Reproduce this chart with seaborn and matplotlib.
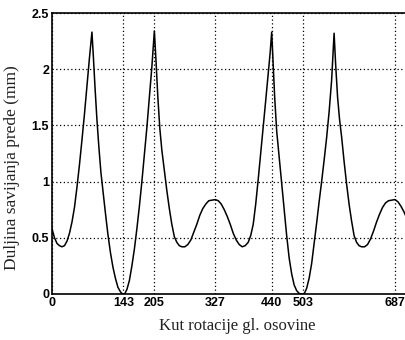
import numpy as np
import pandas as pd
import matplotlib
matplotlib.use("Agg")
import matplotlib.pyplot as plt
import seaborn as sns

# kut rotacije (stupnjevi) i duljina savijanja (mm), ocitano sa slike
kut = [0, 5, 10, 15, 20, 25, 30, 35, 40, 45, 50, 55, 60, 65, 70, 75, 80,
       83, 86, 90, 94, 98, 102, 107, 112, 117, 122, 127, 132, 137, 140, 143,
       146, 150, 155, 160, 165, 170, 175, 180, 185, 190, 195, 200, 205,
       208, 212, 216, 220, 225, 230, 235, 240, 245, 250, 255, 260, 266,
       272, 278, 284, 290, 296, 302, 308, 314, 320, 327, 333, 339, 345,
       351, 357, 363, 369, 375, 381, 387, 393, 398, 403, 408, 413, 418,
       423, 428, 433, 437, 440, 443, 446, 450, 455, 460, 465, 470, 475,
       480, 485, 490, 495, 500, 503, 506, 510, 515, 520, 525, 530, 535,
       540, 545, 550, 555, 560, 565, 568, 572, 576, 580, 585, 590, 595,
       600, 605, 610, 615, 620, 626, 632, 638, 644, 650, 656, 662, 668,
       674, 680, 687, 693, 699, 705, 710]
duljina = [0.58, 0.50, 0.45, 0.43, 0.42, 0.43, 0.47, 0.54, 0.64, 0.77, 0.95,
           1.15, 1.37, 1.60, 1.85, 2.10, 2.33,
           2.10, 1.85, 1.55, 1.30, 1.08, 0.92, 0.72, 0.53, 0.37, 0.24, 0.14,
           0.06, 0.02, 0.005, 0.0,
           0.005, 0.04, 0.12, 0.25, 0.40, 0.58, 0.78, 1.00, 1.24, 1.48,
           1.75, 2.02, 2.34,
           2.10, 1.75, 1.47, 1.28, 1.10, 0.92, 0.76, 0.62, 0.51, 0.46,
           0.43, 0.42, 0.42,
           0.44, 0.48, 0.55, 0.62, 0.70, 0.76, 0.80, 0.83, 0.835, 0.84,
           0.83, 0.80, 0.75,
           0.69, 0.62, 0.54, 0.48, 0.44, 0.42, 0.43, 0.46, 0.52, 0.62,
           0.80, 1.02, 1.25,
           1.48, 1.72, 1.96, 2.15, 2.33, 2.05, 1.75, 1.45, 1.22, 0.98,
           0.75, 0.52, 0.32,
           0.18, 0.08, 0.03, 0.005, 0.0, 0.0, 0.01, 0.05, 0.14, 0.27,
           0.45, 0.63, 0.82,
           1.00, 1.19, 1.39, 1.62, 1.90, 2.32, 2.05, 1.75, 1.55, 1.40,
           1.18, 0.98, 0.80,
           0.65, 0.52, 0.46, 0.43, 0.42, 0.42, 0.44, 0.49, 0.56, 0.64,
           0.71, 0.77, 0.81,
           0.83, 0.835, 0.84, 0.82, 0.78, 0.73, 0.68]

x_ticks = [0, 143, 205, 327, 440, 503, 687]
y_ticks = [0, 0.5, 1, 1.5, 2, 2.5]
y_tick_labels = ["0", "0.5", "1", "1.5", "2", "2.5"]

df = pd.DataFrame({"kut": kut, "duljina": duljina})

sns.set_style("white")
fig = plt.figure(figsize=(4.05, 3.4), dpi=100)
ax = fig.add_axes([52 / 405, 46 / 340, 353 / 405, 281 / 340])

sns.lineplot(data=df, x="kut", y="duljina", color="black", linewidth=1.1,
             ax=ax, zorder=3)

ax.set_xlim(0, 707)
ax.set_ylim(0, 2.5)
ax.set_xticks(x_ticks)
ax.set_xticklabels([str(t) for t in x_ticks])
ax.set_yticks(y_ticks)
ax.set_yticklabels(y_tick_labels)

tick_font = dict(family=["Liberation Sans Narrow", "Liberation Sans"],
                 weight="bold", size=9)
for lab in ax.get_xticklabels() + ax.get_yticklabels():
    lab.set_fontproperties(matplotlib.font_manager.FontProperties(**tick_font))

ax.tick_params(direction="in", length=3, width=0.8, color="black",
               labelcolor="black", pad=2)
ax.grid(True, color="black", linestyle=(0, (1, 2)), linewidth=0.9)

for side in ["left", "bottom", "top"]:
    ax.spines[side].set_color("black")
    ax.spines[side].set_linewidth(1.2)
ax.spines["right"].set_visible(False)

ax.set_xlabel("Kut rotacije gl. osovine", family="Liberation Serif",
              fontsize=12, color="#222222")
ax.set_ylabel("Duljina savijanja prede (mm)", family="Liberation Serif",
              fontsize=12.5, color="#222222")
ax.xaxis.label.set_va("center")
ax.yaxis.label.set_va("center")
ax.xaxis.set_label_coords(0.525, -0.115)
ax.yaxis.set_label_coords(-0.113, 0.45)

fig.savefig("out.png", dpi=100)
